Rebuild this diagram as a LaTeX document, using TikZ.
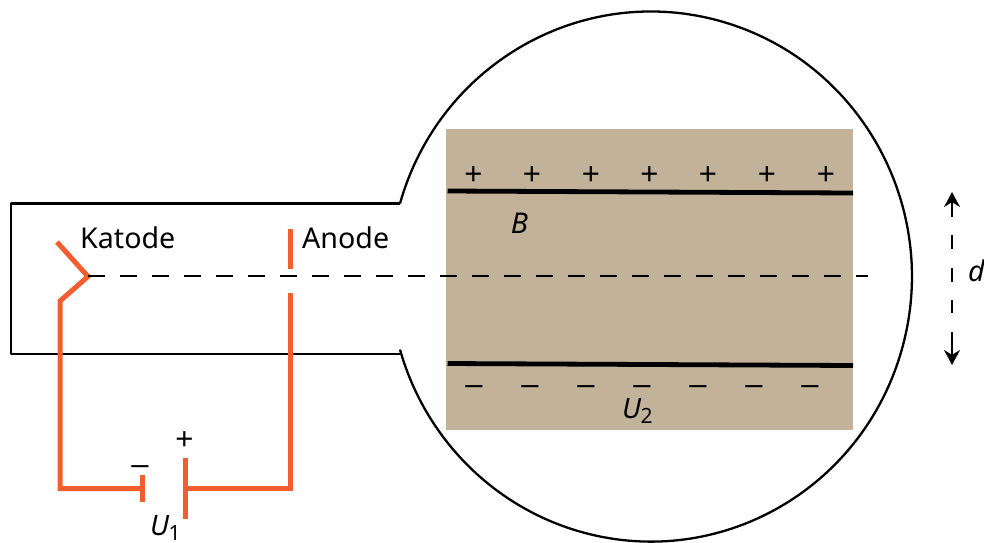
\documentclass[tikz,border=0pt]{standalone}
\usepackage{fontspec}
\setmainfont{Noto Sans}
\newfontfamily\signfont{Liberation Sans}
\usetikzlibrary{arrows.meta}
\definecolor{wire}{HTML}{F45D2E}
\definecolor{sand}{HTML}{C1B299}
\newcommand{\sym}[1]{\fontsize{#1}{#1}\selectfont}
\newcommand{\volt}[1]{\sym{28}\itshape U\kern-0.5pt\raisebox{-5pt}{\sym{21}\upshape #1}}
\tikzset{
  x=1pt,y=-1pt,
  glass/.style={draw=black,line width=2.3pt,line join=round},
  wireline/.style={draw=wire,line width=5pt,line join=miter,line cap=butt},
  plate/.style={draw=black,line width=4.8pt},
  axis/.style={draw=black,line width=2.2pt,dash pattern=on 17pt off 15pt},
  gauge/.style={draw=black,line width=1.9pt},
  gaugearrow/.style={gauge,-{Stealth[length=15pt,width=16pt]}},
  lab/.style={inner sep=0pt,text=black},
  word/.style={lab,font=\sym{28.6}},
  signmark/.style={lab,font=\signfont\sym{31}}
}
\begin{document}
\begin{tikzpicture}
\useasboundingbox (0,0) rectangle (984,542);
% field region
\fill[sand] (445.5,128.5) rectangle (853,430);
% tube
\coordinate (tl) at (11,203.5);
\coordinate (tr) at (400,203.5);
\coordinate (bl) at (11,354);
\coordinate (br) at (400,354);
\draw[glass] (tr) -- (tl) -- (bl) -- (br);
\draw[glass] (tr) arc[start angle=164,end angle=-164,x radius=261pt,y radius=265pt];
% plates
\coordinate (p1) at (447.5,191);
\coordinate (p2) at (853,193);
\coordinate (p3) at (447.5,363.5);
\coordinate (p4) at (853,365.5);
\draw[plate] (p1) -- (p2);
\draw[plate] (p3) -- (p4);
% cathode circuit
\coordinate (k0) at (57,242);
\coordinate (k1) at (88,276.5);
\coordinate (k2) at (60,301);
\coordinate (k3) at (60,488.5);
\coordinate (b1) at (142,488.5);
\coordinate (b1t) at (142,475);
\coordinate (b1b) at (142,502);
\coordinate (b2) at (185,488.5);
\coordinate (b2t) at (185,458);
\coordinate (b2b) at (185,519);
\coordinate (a0) at (290,488.5);
\coordinate (a1) at (290,293);
\coordinate (a2) at (290,269);
\coordinate (a3) at (290,229);
\draw[wireline] (k0) -- (k1) -- (k2) -- (k3) -- (b1);
\draw[wireline] (b1t) -- (b1b);
\draw[wireline] (b2t) -- (b2b);
\draw[wireline] (b2) -- (a0) -- (a1);
\draw[wireline] (a2) -- (a3);
% axis
\coordinate (ax0) at (88,276);
\coordinate (ax1) at (868,276);
\draw[axis] (ax0) -- (ax1);
% distance gauge
\coordinate (d0) at (952,217);
\coordinate (d1) at (952,192);
\coordinate (d2) at (952,332);
\coordinate (d3) at (952,365);
\draw[gaugearrow] (d0) -- (d1);
\draw[gaugearrow] (d2) -- (d3);
\draw[gauge] (952,235) -- (952,249) (952,268) -- (952,282) (952,300) -- (952,313);
% labels
\node[word,anchor=base west] (katode) at (80,248) {Katode};
\node[word,anchor=base west] (anode) at (302,248) {Anode};
\node[word,anchor=base] (B) at (519.5,233) {\itshape B};
\node[word,anchor=base west] (d) at (968,281) {\itshape d};
\node[lab,anchor=base west] (U1) at (150,535) {\volt{1}};
\node[lab,anchor=base west] (U2) at (622,418) {\volt{2}};
\node[signmark] (bp) at (184.5,441) {+};
\node[signmark] (bm) at (140,470) {–};
\foreach \px [count=\i] in {473.5,532,591,649.5,708,767,826} \node[signmark] (plus\i) at (\px,175.5) {+};
\foreach \mx [count=\i] in {474,530,586,642,698,754,810} \node[signmark] (minus\i) at (\mx,390) {–};
\end{tikzpicture}
\end{document}
